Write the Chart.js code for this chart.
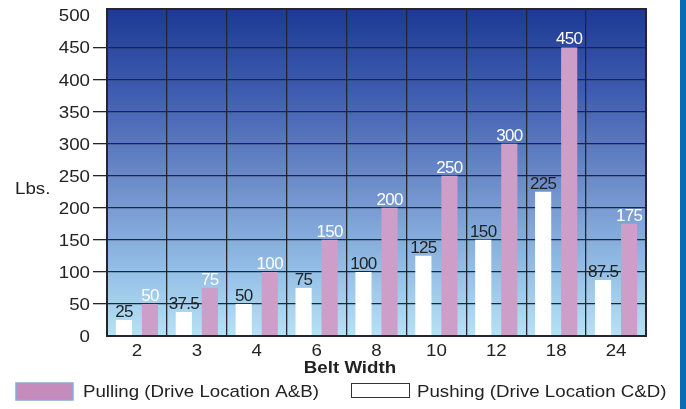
<!DOCTYPE html>
<html>
<head>
<meta charset="utf-8">
<script src="https://cdn.jsdelivr.net/npm/chart.js@4.4.0/dist/chart.umd.min.js"></script>
<style>
  html, body { margin: 0; padding: 0; background: #fff; overflow: hidden; }
  #wrap { position: relative; width: 686px; height: 409px; }
  #edge { position: absolute; right: 0; top: 0; width: 6px; height: 409px; background: #0b6cb6; }
</style>
</head>
<body>
<div id="wrap">
  <canvas id="c" width="686" height="409"></canvas>
  <div id="edge"></div>
</div>
<script>
// Belt widths and required force (lbs.)
const beltWidths = ['2', '3', '4', '6', '8', '10', '12', '18', '24'];
const pushingLbs = [25, 37.5, 50, 75, 100, 125, 150, 225, 87.5];
const pullingLbs = [50, 75, 100, 150, 200, 250, 300, 450, 175];
const yTickValues = [0, 50, 100, 150, 200, 250, 300, 350, 400, 450, 500];

const FONT = '"Liberation Sans", Arial, sans-serif';
const INK = '#222222';
const LINE = '#25252f';
const PINK = '#cc9ec8';
const STRETCH = 1.1; // horizontally widened lettering

// Draw text widened horizontally around its anchor point
function wideText(ctx, text, x, y, align) {
  ctx.save();
  ctx.translate(x, y);
  ctx.scale(STRETCH, 1);
  ctx.textAlign = align;
  ctx.fillText(text, 0, 0);
  ctx.restore();
}

// Blue gradient behind the plot area
const plotBackground = {
  id: 'plotBackground',
  beforeDraw(chart) {
    const { ctx, chartArea: a } = chart;
    const g = ctx.createLinearGradient(0, a.top, 0, a.bottom);
    g.addColorStop(0, '#1d3a94');
    g.addColorStop(0.25, '#3e5caf');
    g.addColorStop(0.55, '#7090cc');
    g.addColorStop(0.8, '#94bfe6');
    g.addColorStop(1, '#b6e2f5');
    ctx.save();
    ctx.fillStyle = g;
    ctx.fillRect(a.left, a.top, a.right - a.left, a.bottom - a.top);
    ctx.restore();
  }
};

// Value labels, axis labels, captions and legend
const annotations = {
  id: 'annotations',
  afterDatasetsDraw(chart) {
    const { ctx } = chart;
    ctx.save();
    ctx.font = '17px ' + FONT;
    ctx.letterSpacing = '-0.7px';
    ctx.textAlign = 'center';
    ctx.textBaseline = 'alphabetic';
    chart.data.datasets.forEach((ds, i) => {
      const meta = chart.getDatasetMeta(i);
      ctx.fillStyle = ds.labelColor;
      meta.data.forEach((bar, j) => {
        ctx.fillText(String(ds.data[j]), bar.x, bar.y - 3);
      });
    });
    ctx.restore();
  },
  afterDraw(chart) {
    const { ctx, chartArea: a } = chart;
    const xs = chart.scales.x, ys = chart.scales.y;
    ctx.save();

    // plot frame
    ctx.strokeStyle = LINE;
    ctx.lineWidth = 2;
    ctx.strokeRect(a.left, a.top, a.right - a.left, a.bottom - a.top);

    ctx.fillStyle = INK;
    ctx.textBaseline = 'alphabetic';
    ctx.font = '17px ' + FONT;

    // y tick labels
    yTickValues.forEach(v => {
      wideText(ctx, String(v), 90, ys.getPixelForValue(v) + 6, 'right');
    });
    // x tick labels
    beltWidths.forEach((lab, i) => {
      wideText(ctx, lab, xs.getPixelForValue(i), 356, 'center');
    });

    wideText(ctx, 'Lbs.', 15, 194, 'left');

    ctx.font = 'bold 17px ' + FONT;
    wideText(ctx, 'Belt Width', 350, 373, 'center');

    // legend
    ctx.font = '17px ' + FONT;
    ctx.fillStyle = '#c58bbb';
    ctx.fillRect(16, 383, 57, 17);
    ctx.strokeStyle = '#86acd8';
    ctx.lineWidth = 1.5;
    ctx.strokeRect(16, 383, 57, 17);
    ctx.fillStyle = INK;
    wideText(ctx, 'Pulling (Drive Location A&B)', 83, 397, 'left');

    ctx.fillStyle = '#ffffff';
    ctx.fillRect(351.5, 383.5, 58, 14);
    ctx.strokeStyle = '#333333';
    ctx.lineWidth = 1;
    ctx.strokeRect(351.5, 383.5, 58, 14);
    ctx.fillStyle = INK;
    wideText(ctx, 'Pushing (Drive Location C&D)', 417, 397, 'left');
    ctx.restore();
  }
};

// grid lines only between the frame edges
const innerLine = (ctx) => {
  const v = ctx.tick ? ctx.tick.value : null;
  return (v === 0 || v === 500) ? 'rgba(0,0,0,0)' : LINE;
};

new Chart(document.getElementById('c'), {
  type: 'bar',
  data: {
    labels: beltWidths,
    datasets: [
      {
        label: 'Pushing (Drive Location C&D)',
        data: pushingLbs,
        backgroundColor: '#ffffff',
        labelColor: INK,
        categoryPercentage: 0.87,
        barPercentage: 0.62
      },
      {
        label: 'Pulling (Drive Location A&B)',
        data: pullingLbs,
        backgroundColor: PINK,
        labelColor: '#ffffff',
        categoryPercentage: 0.87,
        barPercentage: 0.62
      }
    ]
  },
  options: {
    responsive: false,
    animation: false,
    layout: { padding: { top: 9, right: 40, left: 0, bottom: 0 } },
    plugins: {
      legend: { display: false },
      tooltip: { enabled: false },
      title: { display: false }
    },
    scales: {
      x: {
        grid: { offset: true, color: LINE, lineWidth: 1.3, drawTicks: false },
        border: { color: LINE, width: 2 },
        ticks: { display: false },
        afterFit(scale) { scale.height = 73; }
      },
      y: {
        min: 0,
        max: 510,
        afterBuildTicks(scale) { scale.ticks = yTickValues.map(v => ({ value: v })); },
        grid: { color: innerLine, tickColor: innerLine, lineWidth: 1.3, tickLength: 14 },
        border: { color: LINE, width: 2 },
        ticks: { display: false },
        afterFit(scale) { scale.width = 107; }
      }
    }
  },
  plugins: [plotBackground, annotations]
});
</script>
</body>
</html>
